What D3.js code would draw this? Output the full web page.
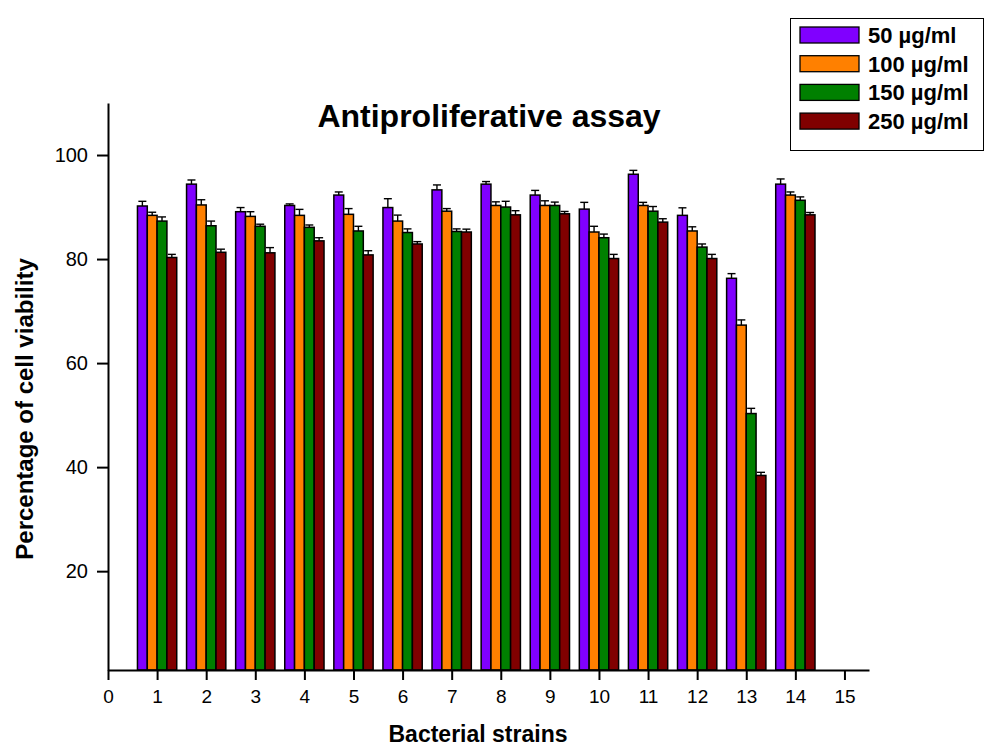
<!DOCTYPE html>
<html>
<head>
<meta charset="utf-8">
<script src="https://cdn.jsdelivr.net/npm/d3@7"></script>
<style>
  body { margin: 0; background: #fff; }
  svg { display: block; font-family: "Liberation Sans", Arial, sans-serif; }
</style>
</head>
<body>
<div id="chart"></div>
<script>
// Data
const strains = [1, 2, 3, 4, 5, 6, 7, 8, 9, 10, 11, 12, 13, 14];
const seriesNames = ['50 µg/ml', '100 µg/ml', '150 µg/ml', '250 µg/ml'];
const seriesColors = ['#8000ff', '#ff8000', '#008000', '#800000'];

const v50  = [90.2, 94.4, 89.1, 90.3, 92.3, 89.9, 93.3, 94.4, 92.3, 89.6, 96.3, 88.4, 76.3, 94.4];
const v100 = [88.4, 90.4, 88.2, 88.4, 88.6, 87.3, 89.2, 90.3, 90.3, 85.2, 90.3, 85.4, 67.3, 92.3];
const v150 = [87.3, 86.4, 86.3, 86.1, 85.4, 85.1, 85.3, 90.0, 90.3, 84.1, 89.2, 82.3, 50.3, 91.3];
const v250 = [80.3, 81.3, 81.2, 83.5, 80.8, 82.9, 85.2, 88.5, 88.7, 80.1, 87.1, 80.1, 38.4, 88.5];

const e50  = [0.9, 0.8, 0.8, 0.3, 0.6, 1.7, 0.95, 0.5, 0.9, 1.3, 0.75, 1.45, 0.9, 1.0];
const e100 = [0.6, 1.0, 0.9, 1.15, 1.1, 1.15, 0.5, 0.7, 0.9, 1.1, 0.6, 0.8, 1.0, 0.6];
const e150 = [0.8, 0.9, 0.4, 0.45, 0.9, 0.7, 0.5, 1.1, 0.65, 0.7, 0.9, 0.6, 1.0, 0.65];
const e250 = [0.6, 0.6, 1.0, 0.6, 0.8, 0.45, 0.55, 0.8, 0.45, 0.8, 0.65, 0.8, 0.6, 0.45];

const xTicks = [0, 1, 2, 3, 4, 5, 6, 7, 8, 9, 10, 11, 12, 13, 14, 15];
const yTicks = [20, 40, 60, 80, 100];

const values = [v50, v100, v150, v250];
const errors = [e50, e100, e150, e250];

const width = 984, height = 751;

const svg = d3.select('#chart').append('svg')
    .attr('width', width)
    .attr('height', height);

// Scales
const xScale = d3.scaleLinear().domain([0, 15.5]).range([108, 869]);
const yScale = d3.scaleLinear().domain([1, 110]).range([670, 103]);

const groupWidth = 0.8;
const barW = groupWidth / seriesNames.length;

// Bars
seriesNames.forEach((name, si) => {
    const rows = strains.map((s, i) => ({ s, v: values[si][i], e: errors[si][i] }));
    const g = svg.append('g');

    g.selectAll('rect')
        .data(rows)
        .enter()
        .append('rect')
        .attr('x', d => xScale(d.s - groupWidth / 2 + si * barW))
        .attr('y', d => yScale(d.v))
        .attr('width', xScale(barW) - xScale(0))
        .attr('height', d => yScale(1) - yScale(d.v))
        .attr('fill', seriesColors[si])
        .attr('stroke', '#000')
        .attr('stroke-width', 1.5);

    // Error bars (upper only)
    const cx = d => xScale(d.s - groupWidth / 2 + (si + 0.5) * barW);
    g.selectAll('.err')
        .data(rows)
        .enter()
        .append('line')
        .attr('x1', cx).attr('x2', cx)
        .attr('y1', d => yScale(d.v))
        .attr('y2', d => yScale(d.v + d.e))
        .attr('stroke', '#000')
        .attr('stroke-width', 1.4);

    g.selectAll('.cap')
        .data(rows)
        .enter()
        .append('line')
        .attr('x1', d => cx(d) - 4).attr('x2', d => cx(d) + 4)
        .attr('y1', d => yScale(d.v + d.e))
        .attr('y2', d => yScale(d.v + d.e))
        .attr('stroke', '#000')
        .attr('stroke-width', 1.4);
});

// X axis
const xAxis = svg.append('g')
    .attr('transform', `translate(0,${yScale(1)})`)
    .call(d3.axisBottom(xScale).tickValues(xTicks).tickSize(10).tickSizeOuter(0).tickPadding(10));
xAxis.select('.domain').attr('stroke-width', 2);
xAxis.selectAll('.tick line').attr('stroke-width', 2);
xAxis.selectAll('text')
    .style('font-size', '19px')
    .style('font-family', '"Liberation Sans", Arial, sans-serif')
    .attr('fill', '#000');

// Y axis
const yAxis = svg.append('g')
    .attr('transform', `translate(${xScale(0)},0)`)
    .call(d3.axisLeft(yScale).tickValues(yTicks).tickSize(11).tickSizeOuter(0).tickPadding(9));
yAxis.select('.domain').attr('stroke-width', 2);
yAxis.selectAll('.tick line').attr('stroke-width', 2);
yAxis.selectAll('text')
    .style('font-size', '20px')
    .style('font-family', '"Liberation Sans", Arial, sans-serif')
    .attr('fill', '#000');

// Title
svg.append('text')
    .attr('x', 489)
    .attr('y', 127)
    .attr('text-anchor', 'middle')
    .style('font-size', '32px')
    .style('font-weight', 'bold')
    .text('Antiproliferative assay');

// Axis titles
svg.append('text')
    .attr('x', 478)
    .attr('y', 742)
    .attr('text-anchor', 'middle')
    .style('font-size', '23px')
    .style('font-weight', 'bold')
    .text('Bacterial strains');

svg.append('text')
    .attr('transform', 'translate(33,409) rotate(-90)')
    .attr('text-anchor', 'middle')
    .style('font-size', '24px')
    .style('font-weight', 'bold')
    .text('Percentage of cell viability');

// Legend
const legend = svg.append('g');
legend.append('rect')
    .attr('x', 790.5).attr('y', 18.5)
    .attr('width', 193).attr('height', 132)
    .attr('fill', '#fff')
    .attr('stroke', '#000')
    .attr('stroke-width', 1);

seriesNames.forEach((name, i) => {
    const item = legend.append('g')
        .attr('transform', `translate(800, ${27 + i * 28.7})`);
    item.append('rect')
        .attr('width', 59).attr('height', 16)
        .attr('fill', seriesColors[i])
        .attr('stroke', '#000')
        .attr('stroke-width', 1.3);
    item.append('text')
        .attr('x', 68)
        .attr('y', 16)
        .style('font-size', '22px')
        .style('font-weight', 'bold')
        .text(name);
});
</script>
</body>
</html>
